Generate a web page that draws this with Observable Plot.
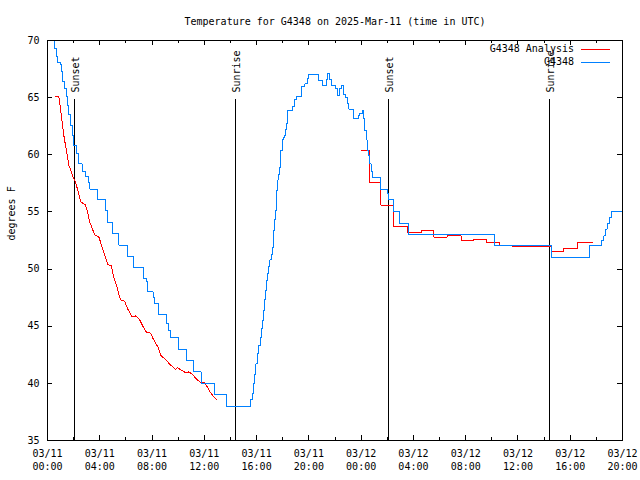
<!DOCTYPE html>
<html><head><meta charset="utf-8">
<script src="https://cdn.jsdelivr.net/npm/d3@7"></script>
<script src="https://cdn.jsdelivr.net/npm/@observablehq/plot@0.6"></script>
<style>body{margin:0;background:#fff} svg line, svg path, svg rect { shape-rendering: crispEdges; }</style>
</head><body><div id="chart"></div>
<script>
// hours since 2025-03-11 00:00 UTC
const titleText = "Temperature for G4348 on 2025-Mar-11 (time in UTC)";
const yLabel = "degrees F";
const legendLabels = ["G4348 Analysis", "G4348"];
const legendColors = ["#ff0000", "#0080ff"];

const obsHours = [0.45,0.55,0.66,0.74,0.99,1.07,1.17,1.32,1.43,1.51,1.63,1.76,1.89,2.01,2.20,2.40,2.66,2.91,3.16,3.24,3.85,4.44,4.57,4.95,5.46,6.14,6.56,7.37,7.55,7.68,8.09,8.19,8.52,9.11,9.29,9.41,10.0,10.61,11.15,11.76,12.80,13.70,15.52,15.66,15.75,15.84,15.95,16.05,16.18,16.30,16.40,16.48,16.55,16.61,16.68,16.76,16.85,16.93,17.02,17.12,17.20,17.27,17.32,17.37,17.44,17.50,17.56,17.62,17.68,17.75,17.80,17.85,17.96,18.05,18.14,18.22,18.29,18.34,18.39,18.73,18.90,19.03,19.41,19.69,19.87,20.00,20.75,21.02,21.35,21.45,21.55,21.70,22.04,22.17,22.34,22.47,22.63,22.80,22.93,23.06,23.44,23.80,23.90,24.08,24.20,24.26,24.39,24.46,24.54,24.66,24.77,24.89,25.48,26.04,26.09,26.50,26.94,27.62,34.21,38.57,41.48,42.39,42.57,42.70,42.83,42.98,43.14,44.0];
const obsTemps = [70.0,69.3,68.6,68.1,67.9,67.3,66.4,65.8,65.1,64.3,63.5,62.6,61.7,60.8,60.1,59.2,58.5,58.1,57.6,57.0,56.1,55.1,54.1,53.1,52.1,51.1,50.1,49.2,48.9,48.0,47.5,47.0,46.0,45.2,44.6,44.0,43.0,42.0,41.0,40.0,39.0,38.0,38.6,39.1,40.0,40.8,41.7,42.6,43.3,44.0,44.8,45.5,46.4,47.3,48.1,49.0,49.6,50.2,50.8,51.3,51.9,52.5,53.4,54.3,55.1,56.0,56.9,57.8,58.3,58.9,59.6,60.4,61.3,61.5,61.7,62.2,62.7,63.3,63.9,64.2,64.8,65.1,66.0,66.2,66.7,67.0,66.5,66.1,66.6,67.1,66.6,66.1,65.8,65.2,65.8,66.1,65.3,65.0,64.5,64.0,63.2,63.4,63.6,63.9,63.2,62.1,61.3,60.4,59.9,59.2,58.5,58.0,57.0,56.6,56.1,55.0,54.0,53.0,52.1,51.0,52.1,52.5,52.9,53.5,54.0,54.5,55.0,55.0];

const anaHoursA = [0.61,0.86,0.99,1.12,1.25,1.38,1.51,1.63,1.76,2.01,2.14,2.27,2.40,2.53,2.66,2.91,3.04,3.24,3.47,3.62,3.93,4.19,4.44,4.61,4.87,5.07,5.28,5.46,5.59,5.89,6.14,6.48,6.73,7.04,7.25,7.55,7.88,8.13,8.44,8.70,9.03,9.41,9.66,9.80,9.93,10.18,10.61,10.81,11.07,11.46,11.71,11.96,12.22,12.47,12.73,12.91];
const anaTempsA = [65.1,65.1,64.1,62.9,61.7,60.8,60.0,59.1,58.7,57.9,57.6,57.1,56.5,55.9,55.8,55.6,55.1,54.1,53.4,53.0,52.8,51.9,51.0,50.4,50.3,49.3,48.6,47.8,47.3,47.2,46.5,45.8,45.9,45.6,45.1,44.5,44.4,43.8,43.2,42.4,42.1,41.6,41.4,41.2,41.4,41.2,40.9,41.0,40.8,40.3,40.1,40.1,39.7,39.2,38.8,38.6];

const anaHoursB = [24.03,24.62,25.50,26.50,27.53,28.62,29.56,30.59,31.66,32.62,33.57,34.61,35.56,38.49,38.57,39.51,40.53,41.68];
const anaTempsB = [60.4,57.6,55.6,53.7,53.2,53.4,52.8,52.9,52.5,52.6,52.3,52.1,52.0,52.0,51.5,51.8,52.3,52.3];

const sunLabels = ["Sunset", "Sunrise", "Sunset", "Sunrise"];
const sunHours = [2.07, 14.42, 26.09, 38.41];

const yTicks = [35, 40, 45, 50, 55, 60, 65, 70];
const xStartHour = 0, xEndHour = 44, labelEveryHours = 4, minorEveryHours = 2;

const t0 = Date.UTC(2025, 2, 11);
const toDate = h => new Date(t0 + h * 3600e3);
const table = (hs, ts) => hs.map((h, i) => ({t: toDate(h), v: ts[i]}));
const obs = table(obsHours, obsTemps);
const anaA = table(anaHoursA, anaTempsA);
const anaB = table(anaHoursB, anaTempsB);
const sun = sunHours.map((h, i) => ({t: toDate(h), label: sunLabels[i]}));
const majorTicks = d3.range(xStartHour, xEndHour + 0.01, labelEveryHours).map(toDate);
const allTicks = d3.range(xStartHour, xEndHour + 0.01, minorEveryHours).map(toDate);
const minorTicks = allTicks.filter((d, i) => i % 2 === 1);
const fmt = d3.utcFormat("%m/%d\n%H:%M");

function legend(index, scales, values, dims) {
  const g = d3.create("svg:g");
  const xr = dims.width - dims.marginRight;
  legendLabels.forEach((label, i) => {
    const y = dims.marginTop + 9 + i * 13;
    g.append("text").attr("x", xr - 48).attr("y", y).attr("dy", "0.32em")
      .attr("text-anchor", "end").attr("fill", "black").text(label);
    g.append("line").attr("x1", xr - 41).attr("x2", xr - 12)
      .attr("y1", y + 0.5).attr("y2", y + 0.5)
      .attr("stroke", legendColors[i]).attr("stroke-width", 1);
  });
  return g.node();
}

const fw = 575, fh = 400;
const chart = Plot.plot({
  width: 640, height: 480,
  marginLeft: 47, marginRight: 18, marginTop: 40, marginBottom: 40,
  style: {fontFamily: "'DejaVu Sans Mono', monospace", fontSize: "10px", background: "white", color: "black"},
  x: {type: "utc", domain: [toDate(xStartHour), toDate(xEndHour)]},
  y: {domain: [35, 70]},
  marks: [
    Plot.axisY(yTicks, {tickSize: 0, tickPadding: 8, label: null}),
    Plot.axisX(majorTicks, {tickSize: 0, tickPadding: 7, tickFormat: fmt, lineHeight: 1.3, label: null}),
    Plot.tickY(yTicks, {y: d => d, insetRight: fw - 5, stroke: "black"}),
    Plot.tickY(yTicks, {y: d => d, insetLeft: fw - 5, stroke: "black"}),
    Plot.tickX(majorTicks, {x: d => d, insetTop: fh - 5, stroke: "black"}),
    Plot.tickX(majorTicks, {x: d => d, insetBottom: fh - 5, stroke: "black"}),
    Plot.tickX(minorTicks, {x: d => d, insetTop: fh - 3, stroke: "black"}),
    Plot.tickX(minorTicks, {x: d => d, insetBottom: fh - 3, stroke: "black"}),
    Plot.ruleX(sun, {x: "t", insetTop: 59, stroke: "black"}),
    Plot.text(sun, {x: "t", text: "label", frameAnchor: "top", dy: 52, rotate: -90, textAnchor: "start", lineAnchor: "middle", dx: 1}),
    Plot.line(anaA, {x: "t", y: "v", stroke: legendColors[0], strokeWidth: 1, clip: true}),
    Plot.line(anaB, {x: "t", y: "v", stroke: legendColors[0], strokeWidth: 1, curve: "step-after", clip: true}),
    Plot.line(obs, {x: "t", y: "v", stroke: legendColors[1], strokeWidth: 1, curve: "step-after", clip: true}),
    Plot.frame({stroke: "black"}),
    Plot.text([titleText], {frameAnchor: "top", dy: -19, lineAnchor: "middle"}),
    Plot.text([yLabel], {frameAnchor: "left", dx: -36, rotate: -90, lineAnchor: "middle"}),
    legend
  ]
});
document.getElementById("chart").appendChild(chart);
</script>
</body></html>
